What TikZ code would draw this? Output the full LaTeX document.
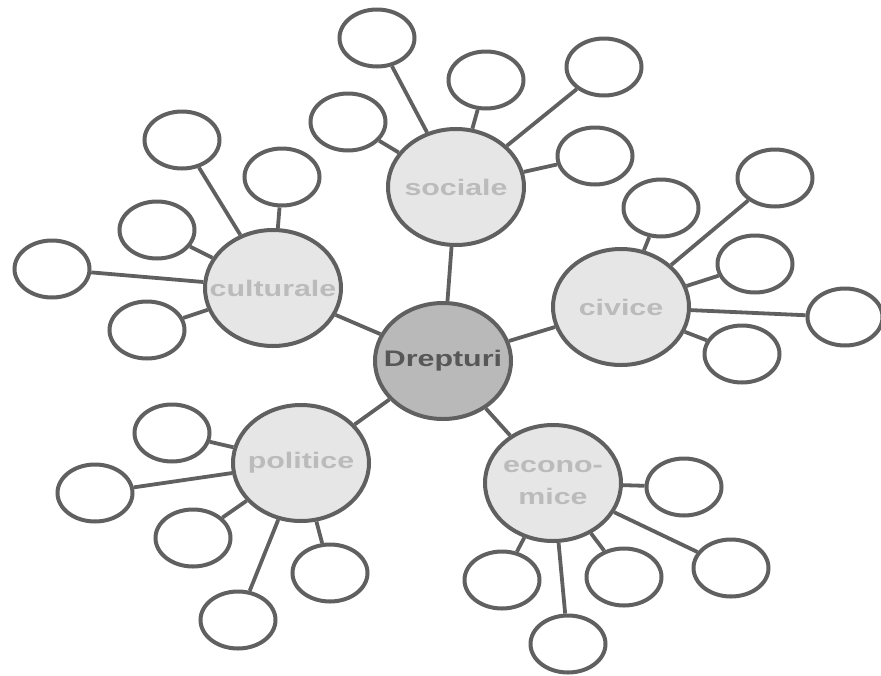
\documentclass[tikz,border=0pt]{standalone}
\usepackage{fontspec}
\setmainfont{Liberation Sans}
\usetikzlibrary{shapes.geometric}
\definecolor{linec}{HTML}{606060}
\definecolor{catfill}{HTML}{E6E6E6}
\definecolor{cattext}{HTML}{BBBBBB}
\definecolor{rootfill}{HTML}{B9B9B9}
\definecolor{roottext}{HTML}{575757}
\newcommand{\wide}[1]{\makebox[0pt]{\scalebox{1.35}[1]{#1}}}
\begin{document}
\begin{tikzpicture}[x=1pt,y=-1pt,
  sat/.style={ellipse, draw=linec, line width=4pt, fill=white, minimum width=75pt, minimum height=57pt, inner sep=0pt},
  cat/.style={ellipse, draw=linec, line width=4pt, fill=catfill, minimum width=136pt, minimum height=116pt, inner sep=0pt, text=cattext, font=\fontsize{22.5pt}{32pt}\selectfont\bfseries, align=center},
  root/.style={cat, fill=rootfill, text=roottext},
  conn/.style={draw=linec, line width=3.8pt}]
\useasboundingbox (0,0) rectangle (881,675);
% main nodes
\node[root] (dr) at (443,361) {\wide{Drepturi}};
\node[cat] (so) at (456,187) {\wide{sociale}};
\node[cat] (cu) at (273,288) {\wide{culturale}};
\node[cat] (ci) at (621,307) {\wide{civice}};
\node[cat] (po) at (301,463) {\wide{politice}};
\node[cat] (ec) at (553,483) {\wide{econo-}\\\wide{mice}};
% satellites: sociale
\node[sat] (so1) at (377,38) {};
\node[sat] (so2) at (486,80) {};
\node[sat] (so3) at (604,67) {};
\node[sat] (so4) at (348,122) {};
\node[sat] (so5) at (595,156) {};
% culturale
\node[sat] (cu1) at (182,140) {};
\node[sat] (cu2) at (282,177) {};
\node[sat] (cu3) at (157,230) {};
\node[sat] (cu4) at (52,269) {};
\node[sat] (cu5) at (147,330) {};
% civice
\node[sat] (ci1) at (661,208) {};
\node[sat] (ci2) at (775,178) {};
\node[sat] (ci3) at (755,264) {};
\node[sat] (ci4) at (845,317) {};
\node[sat] (ci5) at (742,354) {};
% politice
\node[sat] (po1) at (172,433) {};
\node[sat] (po2) at (95,493) {};
\node[sat] (po3) at (193,538) {};
\node[sat] (po4) at (330,573) {};
\node[sat] (po5) at (238,620) {};
% economice
\node[sat] (ec1) at (684,487) {};
\node[sat] (ec2) at (731,568) {};
\node[sat] (ec3) at (624,577) {};
\node[sat] (ec4) at (502,580) {};
\node[sat] (ec5) at (568,644) {};
% connectors
\foreach \c in {so,cu,ci,po,ec} {
  \draw[conn] (dr) -- (\c);
  \foreach \i in {1,...,5} { \draw[conn] (\c) -- (\c\i); }
}
\end{tikzpicture}
\end{document}
